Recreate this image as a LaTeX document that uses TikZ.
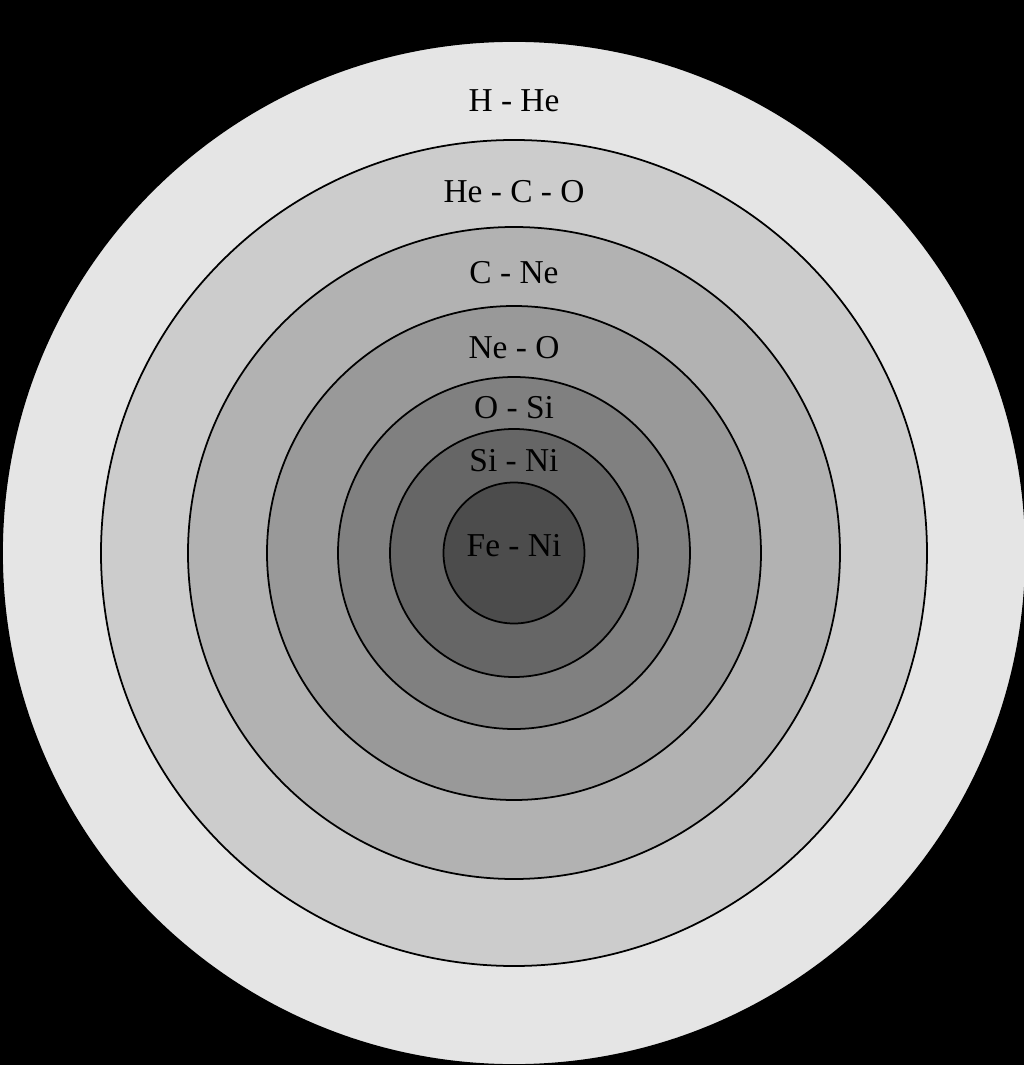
\documentclass[tikz,border=0pt]{standalone}
\usepackage{fontspec}
\setmainfont{Liberation Serif}
\usepackage{xcolor}
\usetikzlibrary{positioning, calc}
\definecolor{shellA}{gray}{0.90}
\definecolor{shellB}{gray}{0.80}
\definecolor{shellC}{gray}{0.70}
\definecolor{shellD}{gray}{0.60}
\definecolor{shellE}{gray}{0.50}
\definecolor{shellF}{gray}{0.40}
\definecolor{shellG}{gray}{0.30}
\tikzset{
	shell/.style={draw=black, line width=1pt},
	layer/.style={font=\fontsize{19}{22}\selectfont, text=black, inner sep=0pt}
}

\begin{document}
\begin{tikzpicture}[x=0.02cm, y=0.02cm]
		\coordinate (O) at (0,0);

		\fill [black] (-514,-512) rectangle (510,553);
		\useasboundingbox (-514,-512) rectangle (510,553);

		\draw [shell, fill=shellA] (O) circle [radius=512];
		\draw [shell, fill=shellB] (O) circle [radius=413];
		\draw [shell, fill=shellC] (O) circle [radius=326];
		\draw [shell, fill=shellD] (O) circle [radius=247];
		\draw [shell, fill=shellE] (O) circle [radius=176];
		\draw [shell, fill=shellF] (O) circle [radius=124];
		\draw [shell, fill=shellG] (O) circle [radius=70.5];

		\node [layer] (hhe)  at (0,452) {H - He};
		\node [layer] (heco) at (0,361) {He - C - O};
		\node [layer] (cne)  at (0,280) {C - Ne};
		\node [layer] (neo)  at (0,205) {Ne - O};
		\node [layer] (osi)  at (0,145) {O - Si};
		\node [layer] (sini) at (0,92) {Si - Ni};
		\node [layer] (feni) at (0,7) {Fe - Ni};
	\end{tikzpicture}
\end{document}
